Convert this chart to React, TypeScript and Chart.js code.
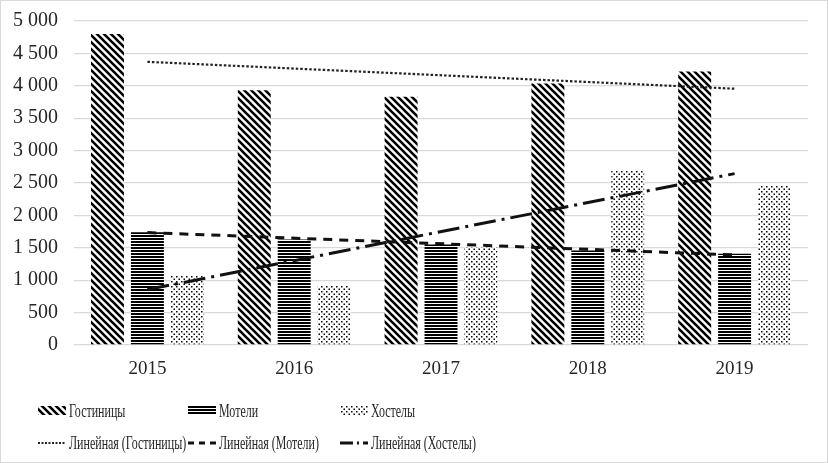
import { useEffect, useRef } from "react";
import { Chart, registerables } from "chart.js";
import type { Plugin } from "chart.js";

Chart.register(...registerables);

// Values
const years = ["2015", "2016", "2017", "2018", "2019"];
const hotels = [4800, 3930, 3830, 4035, 4220];
const motels = [1740, 1630, 1550, 1460, 1410];
const hostels = [1080, 910, 1510, 2700, 2470];
// trend lines: only the end points are read, the middle is spanned
const hotelsTrend = [4370, null, null, null, 3955];
const motelsTrend = [1735, null, null, null, 1390];
const hostelsTrend = [855, null, null, null, 2645];
const yTicks = [0, 500, 1000, 1500, 2000, 2500, 3000, 3500, 4000, 4500, 5000];

const FONT = "'Liberation Serif', 'Times New Roman', serif";
const TEXT = "#262626";

const fmt = (v: number) => String(v).replace(/\B(?=(\d{3})+(?!\d))/g, " ");

function tile(size: number, h: number, draw: (c: CanvasRenderingContext2D) => void) {
  const c = document.createElement("canvas");
  c.width = size;
  c.height = h;
  const ctx = c.getContext("2d")!;
  ctx.fillStyle = "#fff";
  ctx.fillRect(0, 0, size, h);
  draw(ctx);
  return ctx.createPattern(c, "repeat")!;
}

function makePatterns() {
  const diag = tile(7, 7, (c) => {
    c.strokeStyle = "#000";
    c.lineWidth = 2.6;
    c.beginPath();
    c.moveTo(-1, -1);
    c.lineTo(8, 8);
    c.moveTo(-1, 6);
    c.lineTo(1, 8);
    c.moveTo(6, -1);
    c.lineTo(8, 1);
    c.stroke();
  });
  const horiz = tile(4, 3, (c) => {
    c.fillStyle = "#000";
    c.fillRect(0, 0, 4, 2);
  });
  const dots = tile(5, 5, (c) => {
    c.fillStyle = "#000";
    c.fillRect(0, 0, 1.5, 1.5);
    c.fillRect(2.5, 2.5, 1.5, 1.5);
  });
  return { diag, horiz, dots };
}

type LegendItem = { text: string; kind: "bar" | "line"; style: any; dash?: number[]; width?: number };

// legend laid out in fixed columns, like the spreadsheet original
function legendPlugin(items: LegendItem[]): Plugin<"bar"> {
  return {
    id: "gridLegend",
    afterDraw(chart) {
      const ctx = chart.ctx;
      const cols = [37, 187, 339];
      const rows = [410, 442];
      ctx.save();
      ctx.font = `19px ${FONT}`;
      ctx.textBaseline = "middle";
      items.forEach((it, i) => {
        const x = cols[i % 3];
        const y = rows[Math.floor(i / 3)];
        if (it.kind === "bar") {
          ctx.fillStyle = it.style;
          ctx.fillRect(x, y - 5, 28, 9);
        } else {
          ctx.strokeStyle = it.style;
          ctx.lineWidth = it.width ?? 2;
          ctx.setLineDash(it.dash ?? []);
          ctx.beginPath();
          ctx.moveTo(x, y);
          ctx.lineTo(x + 28, y);
          ctx.stroke();
          ctx.setLineDash([]);
        }
        ctx.fillStyle = TEXT;
        ctx.save();
        ctx.translate(x + 31, y + 1);
        ctx.scale(0.63, 1);
        ctx.fillText(it.text, 0, 0);
        ctx.restore();
      });
      ctx.restore();
    },
  };
}

function ComboChart() {
  const canvasRef = useRef<HTMLCanvasElement | null>(null);

  useEffect(() => {
    if (!canvasRef.current) return;
    const p = makePatterns();

    const hotelDash = [2.5, 2];
    const motelDash = [9, 7];
    const hostelDash = [22, 6, 3, 6];

    const legendItems: LegendItem[] = [
      { text: "Гостиницы", kind: "bar", style: p.diag },
      { text: "Мотели", kind: "bar", style: p.horiz },
      { text: "Хостелы", kind: "bar", style: p.dots },
      { text: "Линейная (Гостиницы)", kind: "line", style: "#222", dash: [2, 1.5], width: 2 },
      { text: "Линейная (Мотели)", kind: "line", style: "#111", dash: [6, 5], width: 3 },
      { text: "Линейная (Хостелы)", kind: "line", style: "#111", dash: [13, 4, 2, 4, 8], width: 3 },
    ];

    const barCommon = { categoryPercentage: 0.816, barPercentage: 0.825, borderWidth: 0, order: 2 };
    const lineCommon = { type: "line" as const, pointRadius: 0, spanGaps: true, fill: false, order: 1 };

    const chart = new Chart(canvasRef.current, {
      type: "bar",
      data: {
        labels: years,
        datasets: [
          { label: "Гостиницы", data: hotels, backgroundColor: p.diag, ...barCommon },
          { label: "Мотели", data: motels, backgroundColor: p.horiz, ...barCommon },
          { label: "Хостелы", data: hostels, backgroundColor: p.dots, ...barCommon },
          { label: "Линейная (Гостиницы)", data: hotelsTrend, borderColor: "#222", borderWidth: 2.2, borderDash: hotelDash, ...lineCommon } as any,
          { label: "Линейная (Мотели)", data: motelsTrend, borderColor: "#111", borderWidth: 3, borderDash: motelDash, ...lineCommon } as any,
          { label: "Линейная (Хостелы)", data: hostelsTrend, borderColor: "#111", borderWidth: 3, borderDash: hostelDash, ...lineCommon } as any,
        ],
      },
      options: {
        responsive: true,
        maintainAspectRatio: false,
        animation: false,
        layout: { padding: { top: 20, right: 19, bottom: 81, left: 0 } },
        plugins: {
          legend: { display: false },
          tooltip: { enabled: false },
        },
        scales: {
          x: {
            grid: { display: false, drawTicks: false },
            border: { display: false },
            ticks: { color: TEXT, font: { family: FONT, size: 19 }, padding: 13 },
            afterFit: (s) => {
              s.height = 36;
            },
          },
          y: {
            min: 0,
            max: yTicks[yTicks.length - 1],
            grid: { color: "#d9d9d9", lineWidth: 1.3, drawTicks: false },
            border: { display: false },
            afterBuildTicks: (s) => {
              s.ticks = yTicks.map((v) => ({ value: v }));
            },
            ticks: {
              color: TEXT,
              font: { family: FONT, size: 20 },
              padding: 16,
              callback: (v) => fmt(Number(v)),
            },
            afterFit: (s) => {
              s.width = 73;
              // tick padding would otherwise push the plot top down
              s.paddingTop = 0;
              s.paddingBottom = 0;
            },
          },
        },
      },
      plugins: [legendPlugin(legendItems)],
    });

    return () => {
      chart.destroy();
    };
  }, []);

  return (
    <div style={{ position: "relative", width: 826, height: 461 }}>
      <canvas ref={canvasRef} />
    </div>
  );
}

export default function App() {
  return (
    <div
      style={{
        position: "fixed",
        left: 0,
        top: 0,
        width: 828,
        height: 463,
        boxSizing: "border-box",
        border: "1px solid #d9d9d9",
        background: "#fff",
      }}
    >
      <ComboChart />
    </div>
  );
}
